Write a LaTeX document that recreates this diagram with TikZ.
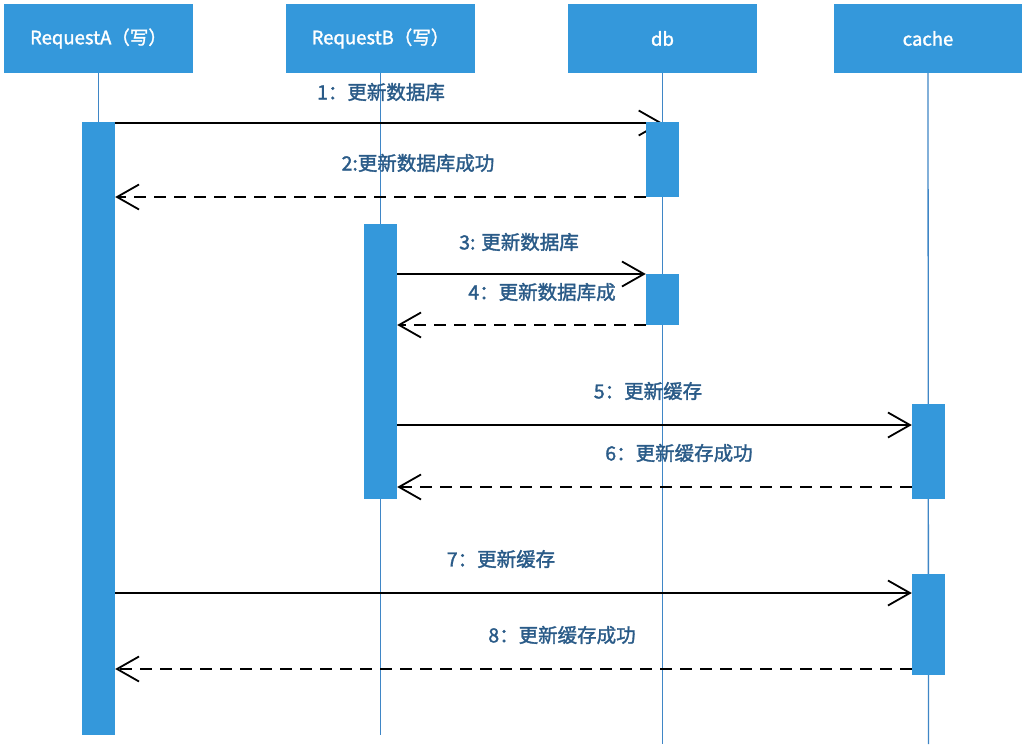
\documentclass[tikz,border=0pt]{standalone}
\usepackage{fontspec}
\setmainfont{Noto Sans CJK SC}
\newfontfamily\boldcjk[FakeBold=1.6]{Noto Sans CJK SC}
\usetikzlibrary{arrows.meta}
\definecolor{boxblue}{HTML}{3498DB}
\definecolor{lifeblue}{HTML}{3F86C6}
\definecolor{labelblue}{HTML}{2A5B88}
\begin{document}
\begin{tikzpicture}[x=1pt,y=-1pt,
  head/.style={rectangle, fill=boxblue, draw=none, minimum width=189pt, minimum height=69pt, inner sep=0pt,
    text=white, font=\boldcjk\fontsize{18.5}{21}\selectfont},
  act/.style={rectangle, fill=boxblue, draw=none, minimum width=33pt, inner sep=0pt},
  life/.style={draw=lifeblue, line width=1.3pt},
  msg/.style={draw=black, line width=1.8pt, -{Straight Barb[length=22pt,width=25pt,line width=1.8pt]}},
  ret/.style={msg, dash pattern=on 12pt off 8pt},
  lbl/.style={text=labelblue, font=\boldcjk\fontsize{19.5}{22}\selectfont, inner sep=0pt}
]
\useasboundingbox (0,0) rectangle (1022,744);
\fill[white] (0,0) rectangle (1022,744);
% headers
\node[head] (hA) at (98.5,38.5) {RequestA（写）};
\node[head] (hB) at (380.5,38.5) {RequestB（写）};
\node[head] (hdb) at (662.5,38.5) {db};
\node[head, minimum width=188pt] (hc) at (928,38.5) {cache};
% lifeline ends
\coordinate (eA) at (98.5,735);
\coordinate (eB) at (380.5,735);
\coordinate (edb) at (662.5,744);
\coordinate (ec) at (928.5,744);
\draw[life] (hA.south) -- (eA);
\draw[life] (hB.south) -- (eB);
\draw[life] (hdb.south) -- (edb);
\draw[life] (hc.south) -- (ec);
% row coordinates
\coordinate (r1) at (0,123);
\coordinate (r2) at (0,197);
\coordinate (r3) at (0,274);
\coordinate (r4) at (0,325);
\coordinate (r5) at (0,425);
\coordinate (r6) at (0,487);
\coordinate (r7) at (0,593);
\coordinate (r8) at (0,669);
% activations and messages
\node[act, minimum height=613pt] (aA) at (98.5,428.5) {};
\node[act, minimum height=275pt] (aB) at (380.5,361.5) {};
\draw[msg] (aA.east |- r1) -- (hdb.south |- r1);
\node[act, minimum height=75pt] (db1) at (662.5,159.5) {};
\draw[ret] (db1.west |- r2) -- (aA.east |- r2);
\node[act, minimum height=51pt] (db2) at (662.5,299.5) {};
\draw[msg] (aB.east |- r3) -- (db2.west |- r3);
\draw[ret] (db2.west |- r4) -- (aB.east |- r4);
\node[act, minimum height=95pt] (c1) at (928.5,451.5) {};
\draw[msg] (aB.east |- r5) -- (c1.west |- r5);
\draw[ret] (c1.west |- r6) -- (aB.east |- r6);
\node[act, minimum height=101pt] (c2) at (928.5,624.5) {};
\draw[msg] (aA.east |- r7) -- (c2.west |- r7);
\draw[ret] (c2.west |- r8) -- (aA.east |- r8);
% labels
\node[lbl] (l1) at (381,92) {1：更新数据库};
\node[lbl] (l2) at (418,163) {2:更新数据库成功};
\node[lbl] (l3) at (519,242) {3: 更新数据库};
\node[lbl] (l4) at (542,292) {4：更新数据库成};
\node[lbl] (l5) at (648,391) {5：更新缓存};
\node[lbl] (l6) at (679,453) {6：更新缓存成功};
\node[lbl] (l7) at (501,559) {7：更新缓存};
\node[lbl] (l8) at (562,635) {8：更新缓存成功};
\end{tikzpicture}
\end{document}
